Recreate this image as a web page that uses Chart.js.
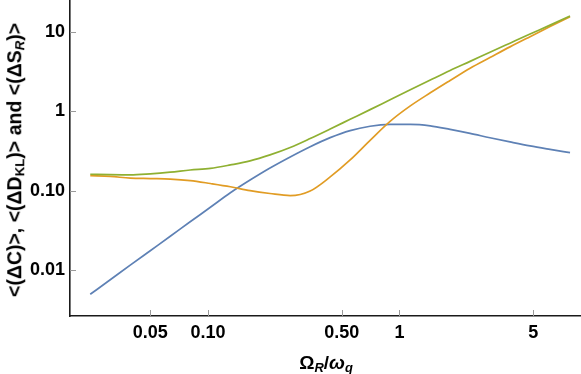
<!DOCTYPE html>
<html><head><meta charset="utf-8">
<script src="https://cdn.jsdelivr.net/npm/chart.js@4"></script>
<style>
html,body{margin:0;padding:0;background:#fff;}
#wrap{position:relative;width:581px;height:374px;overflow:hidden;}
canvas{position:absolute;left:0;top:0;}
.title{position:absolute;font-family:"Liberation Sans",Arial,sans-serif;font-weight:bold;color:#000;white-space:nowrap;line-height:1;}
#ytitle{left:15px;top:160px;transform:translate(-50%,-50%) rotate(-90deg);font-size:19.5px;}
#xtitle{left:326px;top:362px;transform:translate(-50%,-50%);font-size:19px;}
sub{font-size:68%;vertical-align:-0.25em;line-height:0;}
</style></head>
<body><div id="wrap"><canvas id="c" width="581" height="374"></canvas>
<div id="ytitle" class="title">&lt;(ΔC)&gt;, &lt;(ΔD<sub>KL</sub>)&gt; and &lt;(ΔS<sub><i>R</i></sub>)&gt;</div>
<div id="xtitle" class="title">Ω<sub><i>R</i></sub>/<i>ω</i><sub><i>q</i></sub></div>
</div>
<script>
// x values (Ω_R/ω_q)
const xValues = [0.0243, 0.0309, 0.0393, 0.0500, 0.0636, 0.0808, 0.103, 0.131, 0.166, 0.211, 0.269, 0.342, 0.435, 0.553, 0.703, 0.894, 1.14, 1.45, 1.84, 2.34, 2.97, 3.78, 4.81, 6.12, 7.78];
// <(ΔC)>
const deltaC = [0.00494, 0.00752, 0.0115, 0.0175, 0.0266, 0.0405, 0.0617, 0.094, 0.136, 0.193, 0.266, 0.358, 0.466, 0.572, 0.648, 0.684, 0.686, 0.657, 0.592, 0.527, 0.464, 0.411, 0.366, 0.331, 0.301];
// <(ΔD_KL)>
const deltaDKL = [0.154, 0.151, 0.144, 0.142, 0.140, 0.134, 0.123, 0.112, 0.100, 0.092, 0.0866, 0.099, 0.149, 0.244, 0.431, 0.747, 1.17, 1.71, 2.45, 3.50, 4.76, 6.49, 8.73, 11.7, 15.6];
// <(ΔS_R)>
const deltaSR = [0.161, 0.159, 0.158, 0.163, 0.171, 0.182, 0.191, 0.211, 0.237, 0.282, 0.350, 0.454, 0.599, 0.793, 1.05, 1.40, 1.87, 2.48, 3.27, 4.26, 5.55, 7.23, 9.41, 12.2, 15.9];

const xMajorTicks = [0.05, 0.1, 0.5, 1, 5];
const xTickLabels = ['0.05', '0.10', '0.50', '1', '5'];
const xMinorTicks = [0.02, 0.03, 0.04, 0.06, 0.07, 0.08, 0.09, 0.2, 0.3, 0.4, 0.6, 0.7, 0.8, 0.9, 2, 3, 4, 6, 7, 8];
const yMajorTicks = [0.01, 0.1, 1, 10];
const yTickLabels = ['0.01', '0.10', '1', '10'];
const yMinorTicks = [0.003, 0.004, 0.005, 0.006, 0.007, 0.008, 0.009, 0.02, 0.03, 0.04, 0.05, 0.06, 0.07, 0.08, 0.09, 0.2, 0.3, 0.4, 0.5, 0.6, 0.7, 0.8, 0.9, 2, 3, 4, 5, 6, 7, 8, 9, 20];

const FONT = {family: '"Liberation Sans", Arial, sans-serif', size: 18, weight: 'bold'};

const innerTicks = {
  id: 'innerTicks',
  beforeDatasetsDraw(chart) {
    const ctx = chart.ctx, a = chart.chartArea;
    ctx.save();
    ctx.lineWidth = 1;
    const sx = chart.scales.x, sy = chart.scales.y;
    sx.ticks.forEach(t => {
      const major = xMajorTicks.includes(t.value);
      const p = Math.round(sx.getPixelForValue(t.value)) + 0.5;
      ctx.strokeStyle = major ? '#9a9a9a' : '#c4c4c4';
      ctx.beginPath(); ctx.moveTo(p, a.bottom); ctx.lineTo(p, a.bottom - (major ? 6 : 3.5)); ctx.stroke();
    });
    sy.ticks.forEach(t => {
      const major = yMajorTicks.includes(t.value);
      const p = Math.round(sy.getPixelForValue(t.value)) + 0.5;
      ctx.strokeStyle = major ? '#9a9a9a' : '#c4c4c4';
      ctx.beginPath(); ctx.moveTo(a.left, p); ctx.lineTo(a.left + (major ? 6 : 3.5), p); ctx.stroke();
    });
    ctx.restore();
  }
};

function series(label, ys, color, order) {
  return {
    label, order,
    data: xValues.map((x, i) => ({x, y: ys[i]})),
    borderColor: color, backgroundColor: color,
    showLine: true, pointRadius: 0, borderWidth: 1.7,
    cubicInterpolationMode: 'monotone', fill: false
  };
}

new Chart(document.getElementById('c'), {
  type: 'scatter',
  data: {
    datasets: [
      series('<(ΔC)>', deltaC, '#5E81B5', 3),
      series('<(ΔD_KL)>', deltaDKL, '#E19C24', 2),
      series('<(ΔS_R)>', deltaSR, '#8FB032', 1)
    ]
  },
  options: {
    responsive: false, animation: false, devicePixelRatio: 1,
    layout: {padding: 0},
    plugins: {legend: {display: false}, tooltip: {enabled: false}},
    scales: {
      x: {
        type: 'logarithmic', position: 'bottom', min: 0.01905, max: 8.877,
        afterFit: s => { s.height = 58; s.paddingLeft = 0; s.paddingRight = 0; },
        afterBuildTicks: s => { s.ticks = xMajorTicks.concat(xMinorTicks).sort((a, b) => a - b).map(v => ({value: v})); },
        ticks: {
          callback: v => { const i = xMajorTicks.indexOf(v); return i >= 0 ? xTickLabels[i] : null; },
          font: FONT, color: '#000', padding: 6, autoSkip: false, maxRotation: 0, minRotation: 0
        },
        grid: {display: true, drawOnChartArea: false, drawTicks: false},
        border: {display: true, color: '#1a1a1a', width: 1.6}
      },
      y: {
        type: 'logarithmic', position: 'left', min: 0.00263, max: 25.3,
        afterFit: s => { s.width = 70; s.paddingTop = 0; s.paddingBottom = 0; },
        afterBuildTicks: s => { s.ticks = yMajorTicks.concat(yMinorTicks).sort((a, b) => a - b).map(v => ({value: v})); },
        ticks: {
          callback: v => { const i = yMajorTicks.indexOf(v); return i >= 0 ? yTickLabels[i] : null; },
          font: FONT, color: '#000', padding: 5, autoSkip: false
        },
        grid: {display: true, drawOnChartArea: false, drawTicks: false},
        border: {display: true, color: '#1a1a1a', width: 1.6}
      }
    }
  },
  plugins: [innerTicks]
});
</script>
</body></html>
